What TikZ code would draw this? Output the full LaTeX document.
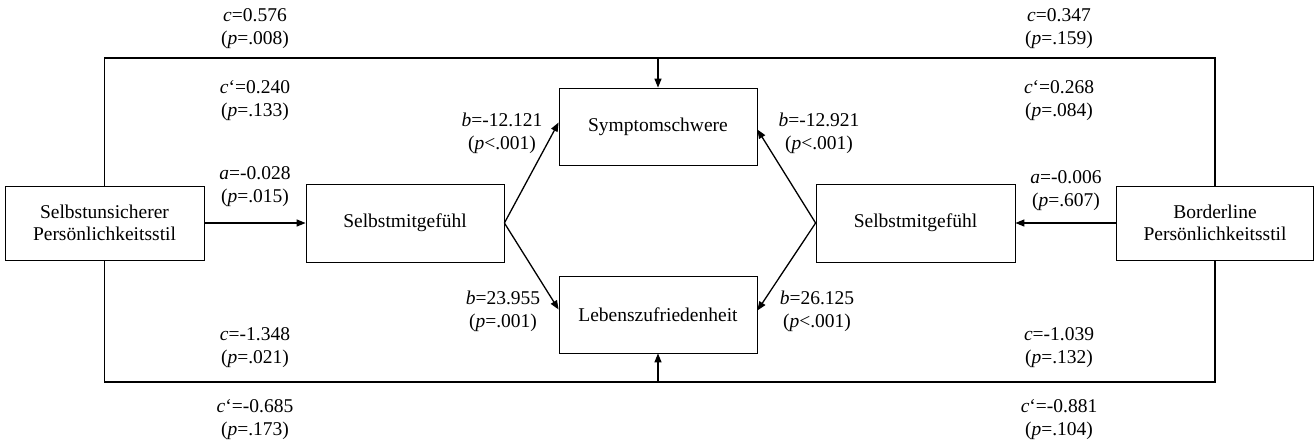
\documentclass[tikz,border=0pt]{standalone}
\usepackage{fontspec}
\setmainfont{Liberation Serif}
\usetikzlibrary{arrows.meta}
\begin{document}
\begin{tikzpicture}[x=1pt,y=-1pt,
  box/.style={draw, line width=0.8pt, align=center, inner sep=0pt, font=\fontsize{19.5}{22.5}\selectfont},
  lab/.style={align=center, inner sep=0pt, font=\fontsize{19.5}{23}\selectfont},
  arr/.style={-{Triangle[length=9pt,width=7pt]}, line width=1.3pt},
  outer/.style={line width=1.5pt}]
\useasboundingbox (0,0) rectangle (1315,440);
% boxes
\node[box, minimum width=199pt, minimum height=74pt] (L) at (104.5,223) {Selbstunsicherer\\Persönlichkeitsstil};
\node[box, minimum width=198pt, minimum height=78pt] (M1) at (405,223) {Selbstmitgefühl};
\node[box, minimum width=198pt, minimum height=77pt] (S) at (658,126.5) {Symptomschwere};
\node[box, minimum width=198pt, minimum height=77pt] (Z) at (658,314.5) {Lebenszufriedenheit};
\node[box, minimum width=199pt, minimum height=78pt] (M2) at (915.5,223) {Selbstmitgefühl};
\node[box, minimum width=197pt, minimum height=74pt] (R) at (1215,223) {Borderline\\Persönlichkeitsstil};
% outer paths
\coordinate (t) at (658,58);
\coordinate (bt) at (658,382);
\draw[outer] (L.north) |- (t) -| (R.north);
\draw[outer] (L.south) |- (bt) -| (R.south);
\draw[arr] (t) -- (S.north);
\draw[arr] (bt) -- (Z.south);
% mediator arrows
\draw[arr] (L.east) -- (M1.west);
\draw[arr] (R.west) -- (M2.east);
\draw[arr] (M1.east) -- ([yshift=4pt]S.west);
\draw[arr] (M1.east) -- ([yshift=5pt]Z.west);
\draw[arr] (M2.west) -- ([yshift=-3pt]S.east);
\draw[arr] (M2.west) -- ([yshift=4pt]Z.east);
% labels left
\node[lab] (l1) at (255,29) {\textit{c}=0.576\\(\textit{p}=.008)};
\node[lab] (l2) at (255,101) {\textit{c}‘=0.240\\(\textit{p}=.133)};
\node[lab] (l3) at (255,187) {\textit{a}=-0.028\\(\textit{p}=.015)};
\node[lab] (l4) at (255,348) {\textit{c}=-1.348\\(\textit{p}=.021)};
\node[lab] (l5) at (255,420) {\textit{c}‘=-0.685\\(\textit{p}=.173)};
\node[lab] (l6) at (502,133) {\textit{b}=-12.121\\(\textit{p}<.001)};
\node[lab] (l7) at (503,311) {\textit{b}=23.955\\(\textit{p}=.001)};
% labels right
\node[lab] (r1) at (1059,29) {\textit{c}=0.347\\(\textit{p}=.159)};
\node[lab] (r2) at (1059,101) {\textit{c}‘=0.268\\(\textit{p}=.084)};
\node[lab] (r3) at (1066,191) {\textit{a}=-0.006\\(\textit{p}=.607)};
\node[lab] (r4) at (1059,348) {\textit{c}=-1.039\\(\textit{p}=.132)};
\node[lab] (r5) at (1059,420) {\textit{c}‘=-0.881\\(\textit{p}=.104)};
\node[lab] (r6) at (819,133) {\textit{b}=-12.921\\(\textit{p}<.001)};
\node[lab] (r7) at (817,311) {\textit{b}=26.125\\(\textit{p}<.001)};
\end{tikzpicture}
\end{document}
